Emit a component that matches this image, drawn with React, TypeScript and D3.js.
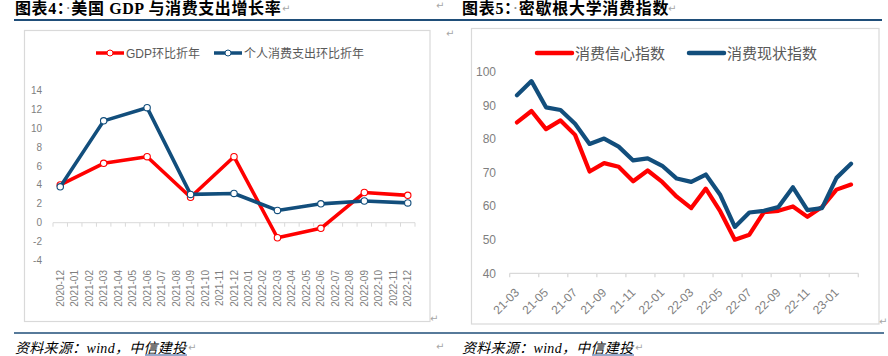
import React from "react";
import * as d3 from "d3";

// ---------- Left chart data ----------
const leftCats = [
  "2020-12", "2021-01", "2021-02", "2021-03", "2021-04", "2021-05", "2021-06",
  "2021-07", "2021-08", "2021-09", "2021-10", "2021-11", "2021-12", "2022-01",
  "2022-02", "2022-03", "2022-04", "2022-05", "2022-06", "2022-07", "2022-08",
  "2022-09", "2022-10", "2022-11", "2022-12",
];
const leftQuarters = ["2020-12", "2021-03", "2021-06", "2021-09", "2021-12", "2022-03", "2022-06", "2022-09", "2022-12"];
const gdpValues = [4.0, 6.3, 7.0, 2.7, 7.0, -1.6, -0.6, 3.2, 2.9];
const pceValues = [3.8, 10.8, 12.2, 3.0, 3.1, 1.3, 2.0, 2.3, 2.1];
const leftYTicks = [-4, -2, 0, 2, 4, 6, 8, 10, 12, 14];
const leftSeriesNames = ["GDP环比折年", "个人消费支出环比折年"];

// ---------- Right chart data ----------
const rightCats = [
  "21-03", "21-04", "21-05", "21-06", "21-07", "21-08", "21-09", "21-10", "21-11", "21-12",
  "22-01", "22-02", "22-03", "22-04", "22-05", "22-06", "22-07", "22-08", "22-09", "22-10",
  "22-11", "22-12", "23-01", "23-02",
];
const sentimentValues = [84.9, 88.3, 82.9, 85.5, 81.2, 70.3, 72.8, 71.7, 67.4, 70.6, 67.2, 62.8, 59.4, 65.2, 58.4, 50.0, 51.5, 58.2, 58.6, 59.9, 56.8, 59.7, 64.9, 66.4];
const currentValues = [93.0, 97.2, 89.4, 88.6, 84.5, 78.5, 80.1, 77.7, 73.6, 74.2, 72.0, 68.2, 67.2, 69.4, 63.3, 53.8, 58.1, 58.6, 59.7, 65.6, 58.8, 59.4, 68.4, 72.6];
const rightYTicks = [40, 50, 60, 70, 80, 90, 100];
const rightSeriesNames = ["消费信心指数", "消费现状指数"];

const RED = "#FF0000";
const BLUE = "#124E7C";
const RULE = "#1F4E79";
const BORDER = "#D9D9D9";
const AXIS = "#D9D9D9";
const TICKTXT = "#7F7F7F";
const LEGTXT = "#595959";
const MARK = "#A6A6A6";
const CHART_FONT = "'Liberation Sans', Arial, 'Noto Sans CJK SC', sans-serif";
const TITLE_FONT = "'Liberation Serif', 'Times New Roman', 'Noto Sans CJK SC', serif";

function LeftChart() {
  const x = d3.scaleBand<string>().domain(leftCats).range([53, 415]).padding(0);
  const y = d3.scaleLinear().domain([-4, 14]).range([260.4, 90.7]);
  const cx = (c: string) => (x(c) as number) + x.bandwidth() / 2;
  const line = d3
    .line<number>()
    .x((_, i) => cx(leftQuarters[i]))
    .y((v) => y(v));
  const y0 = y(0);
  const boundaries = leftCats.map((c) => x(c) as number).concat([x.range()[1]]);
  const series = [
    { vals: gdpValues, color: RED },
    { vals: pceValues, color: BLUE },
  ];
  return (
    <g fontFamily={CHART_FONT}>
      <rect x={24.5} y={30.5} width={405.5} height={291} fill="white" stroke={BORDER} strokeWidth={1.2} />
      {/* legend */}
      <g>
        <line x1={96} x2={124} y1={53} y2={53} stroke={RED} strokeWidth={3.5} />
        <circle cx={110} cy={53} r={3} fill="white" stroke={RED} strokeWidth={1} />
        <text x={126} y={57.5} fontSize={12} fill={LEGTXT}>{leftSeriesNames[0]}</text>
        <line x1={214} x2={242} y1={53} y2={53} stroke={BLUE} strokeWidth={3.5} />
        <circle cx={228} cy={53} r={3} fill="white" stroke={BLUE} strokeWidth={1} />
        <text x={244} y={57.5} fontSize={12} fill={LEGTXT}>{leftSeriesNames[1]}</text>
      </g>
      {/* y labels */}
      {leftYTicks.map((t) => (
        <text key={t} x={42} y={y(t)} dy="0.35em" textAnchor="end" fontSize={10} fill={TICKTXT}>
          {t}
        </text>
      ))}
      {/* x axis */}
      <line x1={x.range()[0]} x2={x.range()[1]} y1={y0} y2={y0} stroke={AXIS} strokeWidth={1} />
      {boundaries.map((b, i) => (
        <line key={i} x1={b} x2={b} y1={y0} y2={y0 + 4} stroke={AXIS} strokeWidth={1} />
      ))}
      {leftCats.map((c) => (
        <text
          key={c}
          transform={`translate(${cx(c) + 3.5},270) rotate(-90)`}
          textAnchor="end"
          fontSize={10}
          fill={TICKTXT}
        >
          {c}
        </text>
      ))}
      {/* lines */}
      {series.map((s, k) => (
        <g key={k}>
          <path d={line(s.vals) as string} fill="none" stroke={s.color} strokeWidth={3.6} strokeLinejoin="round" strokeLinecap="round" />
          {s.vals.map((v, i) => (
            <circle key={i} cx={cx(leftQuarters[i])} cy={y(v)} r={3.2} fill="white" stroke={s.color} strokeWidth={1.1} />
          ))}
        </g>
      ))}
    </g>
  );
}

function RightChart() {
  const x = d3.scaleBand<string>().domain(rightCats).range([509.7, 858.3]).padding(0);
  const y = d3.scaleLinear().domain([40, 100]).range([273.3, 71.7]);
  const cx = (c: string) => (x(c) as number) + x.bandwidth() / 2;
  const line = d3
    .line<number>()
    .x((_, i) => cx(rightCats[i]))
    .y((v) => y(v));
  const yb = y(40);
  const boundaries = rightCats
    .map((c) => x(c) as number)
    .concat([x.range()[1]])
    .filter((_, i) => i % 2 === 0);
  const labelCats = rightCats.filter((_, i) => i % 2 === 0);
  return (
    <g fontFamily={CHART_FONT}>
      <rect x={471.5} y={28.5} width={407.5} height={295.5} fill="white" stroke={BORDER} strokeWidth={1.2} />
      {/* legend */}
      <line x1={537} x2={572} y1={53} y2={53} stroke={RED} strokeWidth={4.5} strokeLinecap="round" />
      <text x={575} y={58.5} fontSize={15} fill={LEGTXT}>{rightSeriesNames[0]}</text>
      <line x1={689} x2={724} y1={53} y2={53} stroke={BLUE} strokeWidth={4.5} strokeLinecap="round" />
      <text x={727} y={58.5} fontSize={15} fill={LEGTXT}>{rightSeriesNames[1]}</text>
      {/* y labels */}
      {rightYTicks.map((t) => (
        <text key={t} x={496} y={y(t)} dy="0.35em" textAnchor="end" fontSize={12} fill={TICKTXT}>
          {t}
        </text>
      ))}
      {/* x axis */}
      <line x1={x.range()[0]} x2={x.range()[1]} y1={yb} y2={yb} stroke={AXIS} strokeWidth={1.3} />
      {boundaries.map((b, i) => (
        <line key={i} x1={b} x2={b} y1={yb} y2={yb + 4} stroke={AXIS} strokeWidth={1.3} />
      ))}
      {labelCats.map((c) => (
        <text
          key={c}
          transform={`translate(${cx(c) + 3},${yb + 20}) rotate(-45)`}
          textAnchor="end"
          fontSize={12}
          fill={TICKTXT}
        >
          {c}
        </text>
      ))}
      <path d={line(sentimentValues) as string} fill="none" stroke={RED} strokeWidth={4.2} strokeLinejoin="round" strokeLinecap="round" />
      <path d={line(currentValues) as string} fill="none" stroke={BLUE} strokeWidth={4.2} strokeLinejoin="round" strokeLinecap="round" />
    </g>
  );
}

function Mark({ x, y }: { x: number; y: number }) {
  return (
    <text x={x} y={y} fontSize={10} fill={MARK} fontFamily="'DejaVu Sans', sans-serif">
      ↵
    </text>
  );
}

export default function App() {
  return (
    <svg
      width={888}
      height={356}
      viewBox="0 0 888 356"
      style={{ position: "absolute", left: 0, top: 0, background: "white" }}
    >
      <rect width={888} height={356} fill="white" />
      {/* titles */}
      <text x={15} y={13.5} fontSize={16} fontWeight="bold" fontFamily={TITLE_FONT} fill="#000" letterSpacing={0.6}>
        图表4：<tspan fill="#888" fontWeight="normal">·</tspan>美国 GDP 与消费支出增长率
      </text>
      <Mark x={282} y={12} />
      <Mark x={436} y={9} />
      <text x={462} y={13.5} fontSize={16} fontWeight="bold" fontFamily={TITLE_FONT} fill="#000" letterSpacing={0.7}>
        图表5：<tspan fill="#888" fontWeight="normal">·</tspan>密歇根大学消费指数
      </text>
      <Mark x={668} y={12} />
      <line x1={14} x2={882} y1={20} y2={20} stroke={RULE} strokeWidth={1.8} />
      <Mark x={446} y={37} />

      <LeftChart />
      <RightChart />
      <Mark x={430} y={322} />
      <Mark x={879} y={325} />

      <line x1={14} x2={884} y1={333} y2={333} stroke={RULE} strokeWidth={1.5} />
      <text x={15} y={352.5} fontSize={14} fontStyle="italic" fontFamily={TITLE_FONT} fill="#000" letterSpacing={0.3}>
        资料来源：wind，中信建投
      </text>
      <line x1={145} x2={187} y1={355} y2={355} stroke="#2F5597" strokeWidth={1} />
      <Mark x={188} y={351} />
      <text x={462} y={352.5} fontSize={14} fontStyle="italic" fontFamily={TITLE_FONT} fill="#000" letterSpacing={0.3}>
        资料来源：wind，中信建投
      </text>
      <line x1={592} x2={634} y1={355} y2={355} stroke="#2F5597" strokeWidth={1} />
      <Mark x={635} y={351} />
      <Mark x={436} y={350} />
    </svg>
  );
}
